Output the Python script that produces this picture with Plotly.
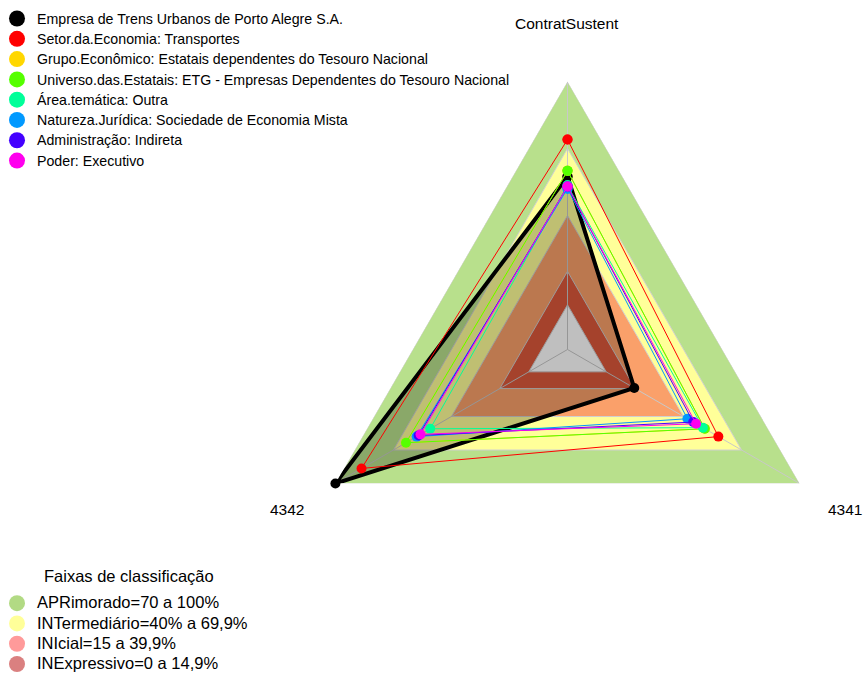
import plotly.graph_objects as go

# eixos do radar (ordem fmsb: topo e depois sentido anti-horário)
AXES = ["ContratSustent", "4342", "4341"]

SERIES_NAMES = [
    "Empresa de Trens Urbanos de Porto Alegre S.A.",
    "Setor.da.Economia: Transportes",
    "Grupo.Econômico: Estatais dependentes do Tesouro Nacional",
    "Universo.das.Estatais: ETG - Empresas Dependentes do Tesouro Nacional",
    "Área.temática: Outra",
    "Natureza.Jurídica: Sociedade de Economia Mista",
    "Administração: Indireta",
    "Poder: Executivo",
]
SERIES_COLORS = ["#000000", "#FF0000", "#FFD700", "#55FF00",
                 "#00FF99", "#0099FF", "#4400FF", "#FF00EE"]
contrat_sustent = [57.5, 74.0, 60.0, 60.0, 53.5, 52.0, 53.0, 53.0]
v4342 = [100.0, 86.5, 63.5, 63.5, 51.0, 58.0, 57.0, 56.0]
v4341 = [14.5, 58.0, 51.0, 51.0, 50.0, 42.0, 45.0, 46.5]

BAND_TITLE = "Faixas de classificação"
BAND_NAMES = ["APRimorado=70 a 100%", "INTermediário=40% a 69,9%",
              "INIcial=15 a 39,9%", "INExpressivo=0 a 14,9%"]
BAND_TOPS = [100, 70, 40, 15]
BAND_FILLS = ["#B8E08C", "#FFFF99", "#FAA06A", "#DD583B"]
BAND_LEGEND_COLORS = ["#B2DA84", "#FFFF99", "#FF9A9A", "#DA8080"]

FONT = "Liberation Sans, Arial, sans-serif"
W, H = 864, 673

fig = go.Figure()
theta_closed = AXES + AXES[:1]

# faixas de classificação (triângulos sobrepostos, do maior para o menor)
for top, color in zip(BAND_TOPS + [0], BAND_FILLS + ["#FFFFFF"]):
    fig.add_trace(go.Scatterpolar(
        r=[top] * 4, theta=theta_closed, mode="lines", fill="toself",
        fillcolor=color, line=dict(color="#D0D0D0", width=1),
        showlegend=False, hoverinfo="skip"))

# raios dos eixos
spoke_theta, spoke_r = [], []
for a in AXES:
    spoke_theta += [a, a, None]
    spoke_r += [-20, 100, None]
fig.add_trace(go.Scatterpolar(
    r=spoke_r, theta=spoke_theta, mode="lines",
    line=dict(color="#C8C8C8", width=1), showlegend=False, hoverinfo="skip"))

# séries
for i, (name, color) in enumerate(zip(SERIES_NAMES, SERIES_COLORS)):
    vals = [contrat_sustent[i], v4342[i], v4341[i]]
    first = i == 0
    fig.add_trace(go.Scatterpolar(
        r=vals + vals[:1], theta=theta_closed, mode="lines+markers",
        line=dict(color=color, width=4 if first else 1),
        marker=dict(color=color, size=10),
        fill="toself" if first else "none",
        fillcolor="rgba(0,0,0,0.25)",
        name=name, showlegend=False))

# entradas de legenda (marcadores grandes)
for name, color in zip(SERIES_NAMES, SERIES_COLORS):
    fig.add_trace(go.Scatterpolar(
        r=[None], theta=[AXES[0]], mode="markers",
        name=f"<span style='font-size:14.2px'>{name}</span>",
        marker=dict(color=color, size=16), legend="legend"))
for name, color in zip(BAND_NAMES, BAND_LEGEND_COLORS):
    fig.add_trace(go.Scatterpolar(
        r=[None], theta=[AXES[0]], mode="markers",
        name=f"<span style='font-size:16.5px'>{name}</span>",
        marker=dict(color=color, size=16), legend="legend2"))

# centro do radar em pixels
cx, cy, R = 567.5, 349.5, 268

fig.update_layout(
    width=W, height=H,
    margin=dict(l=0, r=0, t=0, b=0, autoexpand=False),
    paper_bgcolor="white",
    font=dict(family=FONT, size=15, color="#000000"),
    polar=dict(
        domain=dict(x=[(cx - R) / W, (cx + R) / W],
                    y=[(H - cy - R) / H, (H - cy + R) / H]),
        bgcolor="rgba(0,0,0,0)",
        gridshape="linear",
        radialaxis=dict(range=[-20, 100], visible=False, showgrid=False),
        angularaxis=dict(type="category", categoryarray=AXES,
                         direction="counterclockwise", rotation=90,
                         showticklabels=False, showgrid=False,
                         showline=False, ticks=""),
    ),
    legend=dict(x=-3 / W, y=0.995, xanchor="left", yanchor="top",
                bgcolor="rgba(0,0,0,0)", font=dict(size=13.3),
                itemsizing="trace", tracegroupgap=0),
    legend2=dict(x=-3 / W, y=-7 / H, xanchor="left", yanchor="bottom",
                 bgcolor="rgba(0,0,0,0)", font=dict(size=13.3),
                 itemsizing="trace"),
)

fig.add_annotation(x=129 / W, y=1 - 576 / H, xref="paper", yref="paper",
                   text=BAND_TITLE, showarrow=False, font=dict(size=16.5),
                   xanchor="center", yanchor="middle")

for label, (px_, py_) in zip(AXES, [(567, 24), (287, 509), (845, 509)]):
    fig.add_annotation(x=px_ / W, y=1 - py_ / H, xref="paper", yref="paper",
                       text=label, showarrow=False,
                       font=dict(size=15.5), xanchor="center", yanchor="middle")

fig.write_html("out.html", config={"displayModeBar": False},
               post_script="document.body.style.margin='0px';")
